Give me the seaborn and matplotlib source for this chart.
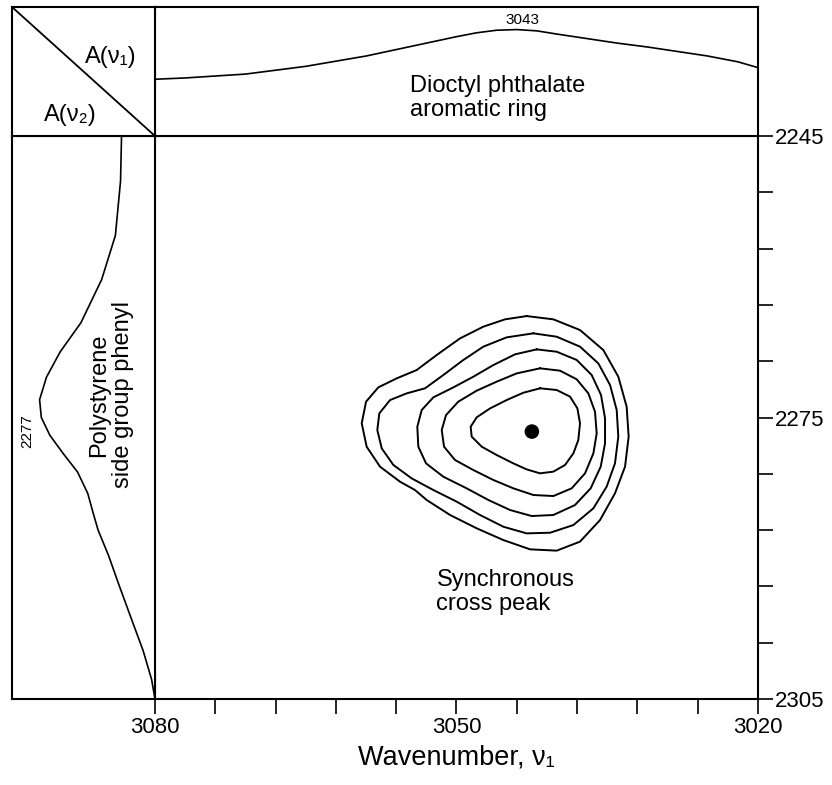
import numpy as np
import matplotlib
matplotlib.use("Agg")
import matplotlib.pyplot as plt
import seaborn as sns

sns.set_style("white")
plt.rcParams["font.family"] = ["Liberation Sans", "DejaVu Sans"]
plt.rcParams["text.color"] = "black"
plt.rcParams["axes.labelcolor"] = "black"
plt.rcParams["xtick.color"] = "black"
plt.rcParams["ytick.color"] = "black"

# top spectrum A(v1): dioctyl phthalate aromatic ring
top_nu1 = [3080, 3077, 3074, 3071, 3068, 3065, 3062, 3059, 3056, 3053, 3050,
           3048, 3046, 3044, 3042, 3040, 3037, 3034, 3031, 3028, 3025, 3022,
           3020]
top_abs = [0.44, 0.45, 0.465, 0.48, 0.51, 0.54, 0.58, 0.62, 0.67, 0.72, 0.77,
           0.80, 0.82, 0.825, 0.815, 0.79, 0.755, 0.72, 0.69, 0.655, 0.62,
           0.575, 0.53]

# left spectrum A(v2): polystyrene side group phenyl
left_nu2 = [2245, 2249.8, 2255.6, 2260.3, 2264.9, 2268.0, 2270.7, 2273.1,
            2275.0, 2276.9, 2278.9, 2280.8, 2283.1, 2285.1, 2287.0, 2289.7,
            2292.8, 2296.3, 2299.8, 2302.9, 2305]
left_abs = [0.234, 0.241, 0.277, 0.373, 0.518, 0.663, 0.759, 0.807,
            0.795, 0.735, 0.639, 0.542, 0.470, 0.434, 0.398, 0.325,
            0.253, 0.169, 0.084, 0.024, 0.0]

# synchronous contour rings, innermost first
ring1_nu1 = [3041.69, 3040.03, 3038.70, 3037.97, 3037.71, 3037.88, 3038.37,
             3039.20, 3040.36, 3041.69, 3043.02, 3044.34, 3046.00, 3047.49,
             3048.49, 3048.59, 3047.99, 3046.66, 3045.01, 3043.35]
ring1_nu2 = [2271.89, 2272.07, 2272.78, 2274.03, 2275.62, 2277.40, 2278.82,
             2280.06, 2280.77, 2280.95, 2280.53, 2279.89, 2279.00, 2278.11,
             2277.04, 2275.98, 2274.98, 2274.03, 2273.14, 2272.36]

ring2_nu1 = [3041.69, 3039.70, 3038.04, 3036.88, 3036.22, 3036.05, 3036.38,
             3037.21, 3038.54, 3040.36, 3042.35, 3044.34, 3046.33, 3048.32,
             3050.15, 3051.24, 3051.47, 3051.04, 3049.82, 3047.99, 3046.00,
             3044.01]
ring2_nu2 = [2269.76, 2270.01, 2270.93, 2272.43, 2274.38, 2276.69, 2278.82,
             2280.95, 2282.55, 2283.37, 2283.26, 2282.55, 2281.66, 2280.60,
             2279.53, 2278.11, 2276.33, 2274.74, 2273.31, 2272.14, 2271.18,
             2270.30]

ring3_nu1 = [3042.02, 3040.03, 3038.04, 3036.55, 3035.62, 3035.22, 3035.22,
             3035.65, 3036.65, 3038.21, 3040.36, 3042.52, 3044.67, 3046.83,
             3048.99, 3051.31, 3053.03, 3053.80, 3053.90, 3053.46, 3052.30,
             3050.31, 3048.32, 3046.33, 3044.18]
ring3_nu2 = [2267.74, 2267.99, 2268.87, 2270.47, 2272.60, 2275.09, 2277.76,
             2280.24, 2282.55, 2284.33, 2285.39, 2285.50, 2284.86, 2283.79,
             2282.55, 2281.31, 2279.89, 2278.11, 2275.98, 2274.20, 2272.85,
             2271.79, 2270.65, 2269.41, 2268.27]

ring4_nu1 = [3042.35, 3040.03, 3037.71, 3035.89, 3034.72, 3034.06, 3033.90,
             3034.23, 3035.06, 3036.38, 3038.37, 3040.69, 3043.02, 3045.34,
             3047.66, 3049.98, 3052.30, 3054.46, 3056.28, 3057.44, 3057.88,
             3057.68, 3056.61, 3054.96, 3053.13, 3051.31, 3049.32, 3047.33,
             3045.01]
ring4_nu2 = [2266.03, 2266.39, 2267.45, 2269.23, 2271.54, 2274.20, 2277.04,
             2279.89, 2282.37, 2284.68, 2286.46, 2287.28, 2287.35, 2286.64,
             2285.39, 2283.97, 2282.73, 2281.49, 2280.06, 2278.29, 2276.33,
             2274.56, 2273.14, 2272.43, 2271.89, 2270.47, 2268.87, 2267.45,
             2266.46]

ring5_nu1 = [3043.02, 3040.36, 3037.71, 3035.39, 3033.90, 3033.07, 3032.87,
             3033.23, 3034.23, 3035.72, 3037.71, 3040.03, 3042.68, 3045.34,
             3047.99, 3050.64, 3052.97, 3054.13, 3055.62, 3057.61, 3058.94,
             3059.43, 3059.00, 3057.78, 3055.95, 3053.96, 3051.97, 3049.65,
             3047.33, 3045.17]
ring5_nu2 = [2264.19, 2264.54, 2265.68, 2267.81, 2270.65, 2273.85, 2277.04,
             2280.24, 2283.08, 2285.93, 2288.23, 2289.19, 2289.05, 2288.06,
             2286.81, 2285.39, 2283.79, 2282.73, 2281.84, 2280.24, 2278.11,
             2275.62, 2273.31, 2271.79, 2270.83, 2269.94, 2268.34, 2266.57,
             2265.32, 2264.54]

peak_nu1 = [3042.5]
peak_nu2 = [2276.5]

nu1_ticks = np.arange(3020, 3081, 6)
nu2_ticks = np.arange(2245, 2306, 6)
nu1_labels = {3080: "3080", 3050: "3050", 3020: "3020"}
nu2_labels = {2245: "2245", 2275: "2275", 2305: "2305"}

W, H = 832, 785
fig = plt.figure(figsize=(W / 100, H / 100), dpi=100)

# panel edges in pixels
px_left, px_div, px_right = 12, 155, 758
px_top, px_mid, px_bot = 7, 136, 699


def box(x0, x1, y0, y1):
    return [x0 / W, (H - y1) / H, (x1 - x0) / W, (y1 - y0) / H]


ax = fig.add_axes(box(px_div, px_right, px_mid, px_bot))
ax_top = fig.add_axes(box(px_div, px_right, px_top, px_mid))
ax_left = fig.add_axes(box(px_left, px_div, px_mid, px_bot))
ax_corner = fig.add_axes(box(px_left, px_div, px_top, px_mid))

for a in (ax, ax_top, ax_left, ax_corner):
    for sp in a.spines.values():
        sp.set_visible(True)
        sp.set_color("black")
        sp.set_linewidth(1.5)
    a.set_facecolor("white")

# main contour panel
rings = [(ring1_nu1, ring1_nu2), (ring2_nu1, ring2_nu2), (ring3_nu1, ring3_nu2),
         (ring4_nu1, ring4_nu2), (ring5_nu1, ring5_nu2)]
for r_x, r_y in rings:
    xs = list(r_x) + [r_x[0]]
    ys = list(r_y) + [r_y[0]]
    sns.lineplot(x=xs, y=ys, sort=False, estimator=None, color="black",
                 lw=1.4, ax=ax)
for ln in ax.lines:
    ln.set_solid_joinstyle("round")
sns.scatterplot(x=peak_nu1, y=peak_nu2, color="black", s=110,
                edgecolor="none", ax=ax, zorder=5)

ax.set_xlim(3080, 3020)
ax.set_ylim(2305, 2245)
ax.yaxis.tick_right()
ax.set_xticks(nu1_ticks)
ax.set_xticklabels([nu1_labels.get(int(t), "") for t in nu1_ticks])
ax.set_yticks(nu2_ticks)
ax.set_yticklabels([nu2_labels.get(int(t), "") for t in nu2_ticks])
ax.tick_params(axis="x", direction="out", length=11, width=1.2,
               labelsize=16, pad=2, bottom=True, top=False)
ax.tick_params(axis="y", direction="out", length=11, width=1.2,
               labelsize=16, pad=1, right=True, left=False)
ax.set_xlabel("Wavenumber, ν₁", fontsize=19.5, labelpad=5)
ax.set_ylabel("")
ax.text(3052.0, 2293.6, "Synchronous\ncross peak", fontsize=17,
        ha="left", va="center", linespacing=1.1)

# top spectrum
sns.lineplot(x=top_nu1, y=top_abs, sort=False, estimator=None, color="black",
             lw=1.2, ax=ax_top)
ax_top.set_xlim(3080, 3020)
ax_top.set_ylim(0, 1)
ax_top.set_xticks([])
ax_top.set_yticks([])
ax_top.set_xlabel("")
ax_top.set_ylabel("")
ax_top.text(3043.4, 0.90, "3043", fontsize=11, ha="center", va="center")
ax_top.text(3054.6, 0.295, "Dioctyl phthalate\naromatic ring", fontsize=17,
            ha="left", va="center", linespacing=1.1)

# left spectrum
sns.lineplot(x=left_abs, y=left_nu2, sort=False, estimator=None,
             color="black", lw=1.2, ax=ax_left)
ax_left.set_xlim(1, 0)
ax_left.set_ylim(2305, 2245)
ax_left.set_xticks([])
ax_left.set_yticks([])
ax_left.set_xlabel("")
ax_left.set_ylabel("")
ax_left.text(0.89, 2276.4, "2277", fontsize=11, rotation=90,
             ha="center", va="center")
ax_left.text(0.31, 2272.6, "Polystyrene\nside group phenyl", fontsize=17,
             rotation=90, ha="center", va="center", multialignment="center",
             linespacing=1.1)

# corner box
ax_corner.plot([0, 1], [1, 0], color="black", lw=1.3,
               transform=ax_corner.transAxes)
ax_corner.set_xticks([])
ax_corner.set_yticks([])
ax_corner.text(0.69, 0.61, "A(ν₁)", fontsize=17, ha="center", va="center",
               transform=ax_corner.transAxes)
ax_corner.text(0.41, 0.16, "A(ν₂)", fontsize=17, ha="center", va="center",
               transform=ax_corner.transAxes)

fig.savefig("out.png", dpi=100, facecolor="white")
